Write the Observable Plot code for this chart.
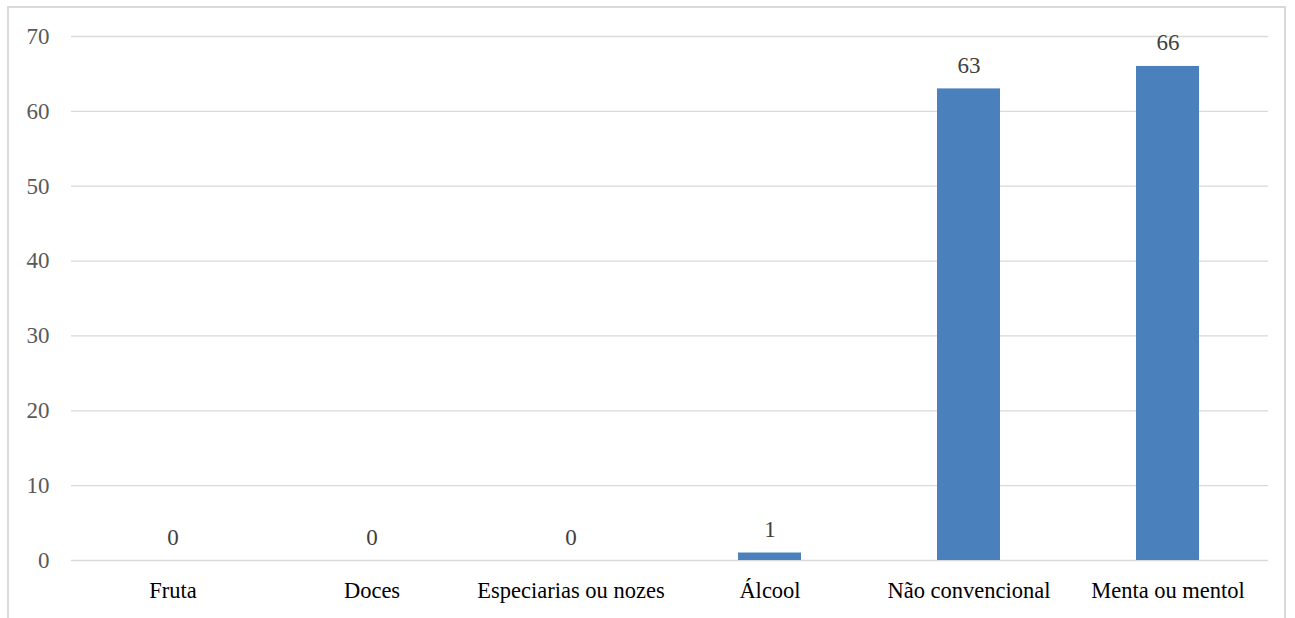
<!DOCTYPE html>
<html>
<head>
<meta charset="utf-8">
<script src="https://cdn.jsdelivr.net/npm/d3@7"></script>
<script src="https://cdn.jsdelivr.net/npm/@observablehq/plot@0.6"></script>
<style>
  html, body { margin: 0; padding: 0; background: #fff; overflow: hidden; }
  #wrap { position: relative; width: 1295px; height: 618px; }
  #frame { position: absolute; left: 7px; top: 6px; width: 1279px; height: 700px; border: 2px solid #d9d9d9; box-sizing: border-box; pointer-events: none; }
  #chart { position: absolute; left: 0; top: 0; }
</style>
</head>
<body>
<div id="wrap">
  <div id="chart"></div>
  <div id="frame"></div>
</div>
<script>
const categories = ["Fruta", "Doces", "Especiarias ou nozes", "Álcool", "Não convencional", "Menta ou mentol"];
const values = [0, 0, 0, 1, 63, 66];
const yTicks = [0, 10, 20, 30, 40, 50, 60, 70];

const data = categories.map((c, i) => ({category: c, value: values[i]}));
const serif = "'Liberation Serif', 'Times New Roman', serif";

const chart = Plot.plot({
  width: 1295,
  height: 618,
  marginLeft: 71,
  marginRight: 27,
  marginTop: 36,
  marginBottom: 58,
  style: {background: "transparent", overflow: "visible"},
  x: {domain: categories, paddingInner: 0.684, paddingOuter: 0.342, axis: null},
  y: {domain: [0, 70], axis: null},
  marks: [
    Plot.ruleY(yTicks, {stroke: "#d9d9d9", strokeWidth: 1.3}),
    Plot.axisY(yTicks, {tickSize: 0, tickPadding: 22, fontSize: 23, fill: "#595959", fontFamily: serif, label: null, tickFormat: d => String(d)}),
    Plot.barY(data, {x: "category", y: "value", fill: "#4a81bd"}),
    Plot.text(data, {x: "category", y: "value", text: d => String(d.value), lineAnchor: "bottom", dy: -16, fontSize: 23, fill: "#404040", fontFamily: serif}),
    Plot.axisX(categories, {tickSize: 0, tickPadding: 22, fontSize: 22.5, fill: "#000", fontFamily: serif, label: null})
  ]
});
document.getElementById("chart").appendChild(chart);
</script>
</body>
</html>
